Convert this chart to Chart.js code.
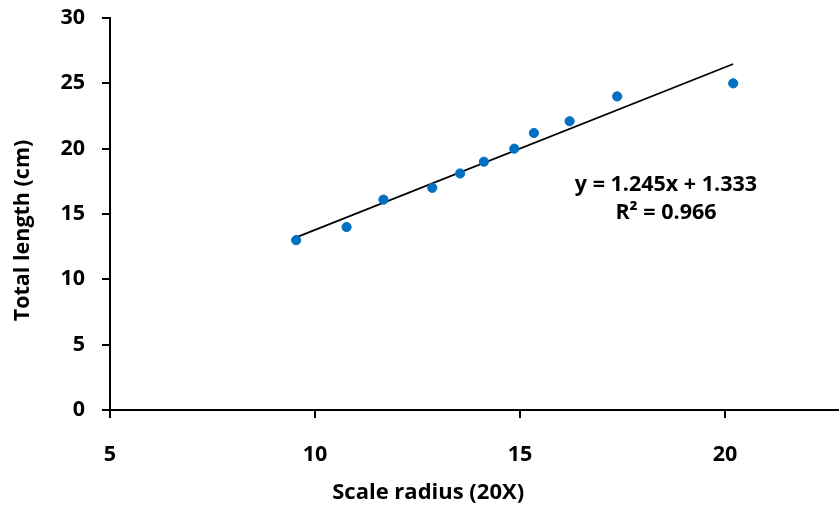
<!DOCTYPE html>
<html>
<head>
<meta charset="utf-8">
<script src="https://cdn.jsdelivr.net/npm/chart.js@4.4.1/dist/chart.umd.min.js"></script>
<style>
html,body{margin:0;padding:0;background:#fff;overflow:hidden;}
canvas{display:block;}
</style>
</head>
<body>
<canvas id="c" width="839" height="508" style="width:839px;height:508px;"></canvas>
<script>
const scaleRadius = [9.54, 10.77, 11.67, 12.86, 13.54, 14.12, 14.86, 15.34, 16.21, 17.37, 20.2];
const totalLength = [13, 14, 16.1, 17, 18.1, 19, 20, 21.2, 22.1, 24, 25];
const xTicks = [5, 10, 15, 20];
const yTicks = [0, 5, 10, 15, 20, 25, 30];
const trendSlope = 1.245;
const trendIntercept = 1.333;
const trendLabel = "y = 1.245x + 1.333";
const r2Label = "R² = 0.966";
const xTitle = "Scale radius (20X)";
const yTitle = "Total length (cm)";

const FONT = "'Open Sans', sans-serif";
const FS = 21.5;
const FT = 22;

const pts = scaleRadius.map((x, i) => ({x: x, y: totalLength[i]}));
const xMin = Math.min(...scaleRadius), xMax = Math.max(...scaleRadius);
const trend = [xMin, xMax].map(x => ({x: x, y: trendSlope * x + trendIntercept}));

const labelPlugin = {
  id: 'eqLabel',
  afterDatasetsDraw(chart) {
    const ctx = chart.ctx;
    const xs = chart.scales.x, ys = chart.scales.y;
    ctx.save();
    ctx.fillStyle = '#000';
    ctx.font = "bold " + FS + "px " + FONT;
    ctx.textAlign = 'center';
    ctx.textBaseline = 'middle';
    const cx = xs.getPixelForValue(18.56);
    ctx.fillText(trendLabel, cx, ys.getPixelForValue(17.2));
    ctx.fillText(r2Label, cx, ys.getPixelForValue(15.05));
    // axis titles
    ctx.font = "bold " + FT + "px " + FONT;
    ctx.fillText(xTitle, xs.getPixelForValue(12.76), 493);
    ctx.font = "bold 21.5px " + FONT;
    ctx.translate(23, ys.getPixelForValue(13.74));
    ctx.rotate(-Math.PI / 2);
    ctx.fillText(yTitle, 0, 0);
    ctx.restore();
  }
};

new Chart(document.getElementById('c'), {
  type: 'scatter',
  data: {
    datasets: [
      {
        label: 'data',
        data: pts,
        backgroundColor: '#0070C0',
        borderColor: '#0070C0',
        pointRadius: 4.6,
        pointHoverRadius: 4.6,
        order: 1
      },
      {
        label: 'trend',
        type: 'line',
        data: trend,
        borderColor: '#000',
        borderWidth: 1.8,
        pointRadius: 0,
        fill: false,
        order: 2
      }
    ]
  },
  options: {
    responsive: false,
    animation: false,
    devicePixelRatio: 1,
    layout: {autoPadding: false, padding: {top: 18, right: 0, left: 0, bottom: 0}},
    plugins: {legend: {display: false}, tooltip: {enabled: false}},
    scales: {
      x: {
        type: 'linear',
        min: 5,
        max: 5 + (839 - 110) / 41,
        afterBuildTicks(s) { s.ticks = xTicks.map(v => ({value: v})); },
        afterFit(s) { s.height = 98; s.paddingLeft = 0; s.paddingRight = 0; },
        grid: {drawOnChartArea: false, drawTicks: true, tickLength: 8, color: '#000', lineWidth: 2},
        border: {display: true, color: '#000', width: 2},
        ticks: {color: '#000', font: {family: FONT, size: FS, weight: 'bold'}, padding: 24, maxRotation: 0},
        title: {display: false, text: xTitle}
      },
      y: {
        type: 'linear',
        min: 0,
        max: 30,
        afterBuildTicks(s) { s.ticks = yTicks.map(v => ({value: v})); },
        afterFit(s) { s.width = 110; s.paddingTop = 0; s.paddingBottom = 0; },
        grid: {drawOnChartArea: false, drawTicks: true, tickLength: 8, color: '#000', lineWidth: 2},
        border: {display: true, color: '#000', width: 2},
        ticks: {color: '#000', font: {family: FONT, size: FS, weight: 'bold'}, padding: 17},
        title: {display: false, text: yTitle}
      }
    }
  },
  plugins: [labelPlugin]
});
</script>
</body>
</html>
